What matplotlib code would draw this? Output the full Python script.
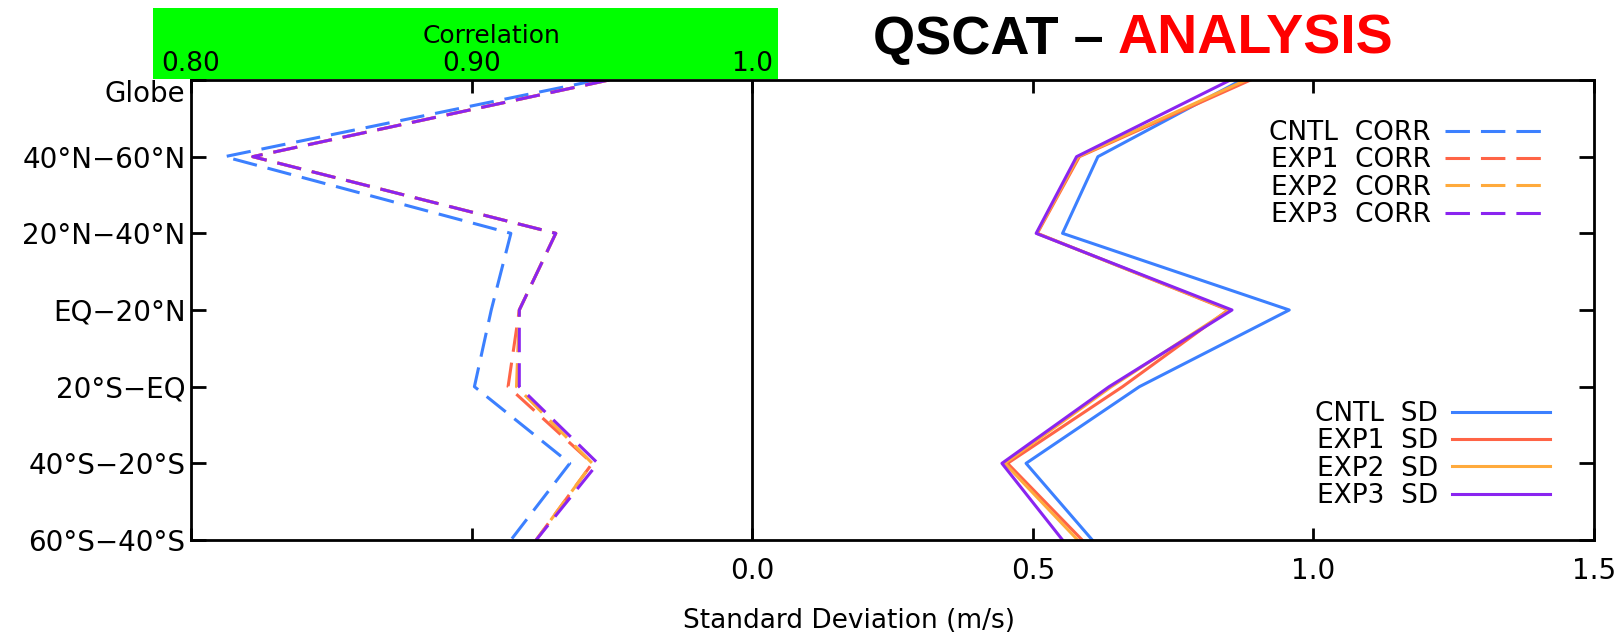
import numpy as np
import matplotlib.pyplot as plt
from matplotlib.patches import Rectangle

regions = ['Globe', '40°N−60°N', '20°N−40°N', 'EQ−20°N', '20°S−EQ', '40°S−20°S', '60°S−40°S']

# correlation per region (top to bottom)
cntl_corr = [0.945, 0.812, 0.914, 0.907, 0.901, 0.935, 0.914]
exp1_corr = [0.949, 0.822, 0.930, 0.917, 0.913, 0.943, 0.923]
exp2_corr = [0.949, 0.822, 0.930, 0.917, 0.916, 0.943, 0.923]
exp3_corr = [0.949, 0.822, 0.930, 0.917, 0.917, 0.945, 0.923]

# standard deviation per region (m/s)
cntl_sd = [0.872, 0.616, 0.553, 0.957, 0.690, 0.488, 0.606]
exp1_sd = [0.888, 0.583, 0.508, 0.848, 0.660, 0.455, 0.588]
exp2_sd = [0.880, 0.581, 0.507, 0.850, 0.640, 0.450, 0.580]
exp3_sd = [0.852, 0.578, 0.506, 0.855, 0.636, 0.445, 0.553]

names = ['CNTL', 'EXP1', 'EXP2', 'EXP3']
colors = ['#3c80ff', '#ff6446', '#ffaa3c', '#8a24f0']

corr_xticks = [0.80, 0.90, 1.0]
corr_xticklabels = ['0.80', '0.90', '1.0']
sd_xticks = [-1.0, -0.5, 0.0, 0.5, 1.0, 1.5]
sd_xticklabels = ['', '', '0.0', '0.5', '1.0', '1.5']


def corr_to_x(c):
    return (np.asarray(c) - 1.0) * 5.0


def x_to_corr(x):
    return np.asarray(x) / 5.0 + 1.0


plt.rcParams['font.family'] = ['DejaVu Sans']

fig = plt.figure(figsize=(16.23, 6.42), dpi=100)
ax = fig.add_axes([191 / 1623, 1 - 540 / 642, 1403 / 1623, 460 / 642])

ypos = np.arange(len(regions))[::-1]
dash = (0, (8.0, 3.6))
lw = 2.2

corr_sets = [cntl_corr, exp1_corr, exp2_corr, exp3_corr]
sd_sets = [cntl_sd, exp1_sd, exp2_sd, exp3_sd]

corr_lines = []
for name, vals, c in zip(names, corr_sets, colors):
    ln, = ax.plot(corr_to_x(vals), ypos, color=c, lw=lw, linestyle=dash, label=f'{name}  CORR')
    corr_lines.append(ln)

sd_lines = []
for name, vals, c in zip(names, sd_sets, colors):
    ln, = ax.plot(vals, ypos, color=c, lw=lw, label=f'{name}  SD')
    sd_lines.append(ln)

ax.axvline(0, color='k', lw=2)

ax.set_xlim(-1.0, 1.5)
ax.set_ylim(0, len(regions) - 1)
ax.set_xticks(sd_xticks)
ax.set_xticklabels(sd_xticklabels)
ax.set_yticks(ypos)
ax.set_yticklabels(regions)
ax.tick_params(axis='x', direction='in', top=True, length=9, width=2, labelsize=20, pad=12)
ax.tick_params(axis='y', direction='in', right=True, length=11, width=2, labelsize=20, pad=4)
for s in ax.spines.values():
    s.set_linewidth(2)
ax.get_yticklabels()[0].set_va('top')

# correlation scale on top, inside a green band
fig.patches.append(Rectangle((153 / 1623, 1 - 79 / 642), 625 / 1623, 71 / 642,
                             transform=fig.transFigure, facecolor='#00ff00',
                             edgecolor='none', zorder=-1))
secax = ax.secondary_xaxis('top', functions=(x_to_corr, corr_to_x))
secax.set_xticks(corr_xticks)
secax.set_xticklabels(corr_xticklabels)
secax.tick_params(length=0, labelsize=19, pad=2)
secax.spines['top'].set_visible(False)
fig.text(492 / 1623, 1 - 36 / 642, 'Correlation', fontsize=18, ha='center', va='center')

fig.text(849 / 1623, 1 - 621 / 642, 'Standard Deviation (m/s)', fontsize=19,
         ha='center', va='center')

# two-colour title
fig.text(1104 / 1623, 1 - 40 / 642, 'QSCAT –', fontsize=39, fontweight='bold',
         family=['Liberation Sans', 'DejaVu Sans'], ha='right', va='center', color='black')
fig.text(1118 / 1623, 1 - 40 / 642, 'ANALYSIS', fontsize=40, fontweight='bold',
         family=['Liberation Sans', 'DejaVu Sans'], ha='left', va='center', color='red')

leg_kw = dict(loc='upper right', frameon=False, markerfirst=False, fontsize=19,
              labelspacing=0.05, handlelength=3.7, handletextpad=0.55,
              borderpad=0, borderaxespad=0, bbox_transform=fig.transFigure)
leg1 = ax.legend(handles=corr_lines, bbox_to_anchor=(1543 / 1623, 1 - 120 / 642), **leg_kw)
ax.add_artist(leg1)
ax.legend(handles=sd_lines, bbox_to_anchor=(1550 / 1623, 1 - 401 / 642), **leg_kw)

plt.savefig('out.png', dpi=100)
